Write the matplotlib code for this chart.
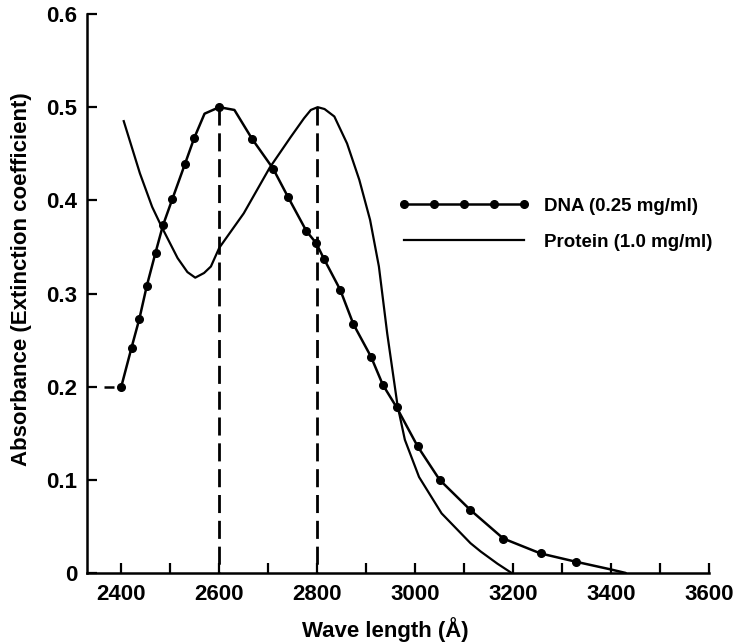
import matplotlib
matplotlib.use("Agg")
import matplotlib.pyplot as plt
from matplotlib.lines import Line2D

# ---- data ----
dna_marker_wl = [2400, 2421, 2437, 2452, 2470, 2485, 2504, 2530, 2549, 2600,
                 2667, 2710, 2740, 2778, 2798, 2814, 2847, 2874, 2910, 2934,
                 2962, 3005, 3050, 3112, 3180, 3256, 3329]
dna_marker_abs = [0.200, 0.242, 0.273, 0.308, 0.344, 0.373, 0.401, 0.439, 0.467, 0.500,
                  0.466, 0.434, 0.404, 0.367, 0.354, 0.337, 0.304, 0.267, 0.232, 0.202,
                  0.178, 0.136, 0.100, 0.068, 0.037, 0.021, 0.012]
# extra (unmarked) points on the DNA curve
dna_extra_wl = [2570, 2631, 3398, 3430]
dna_extra_abs = [0.493, 0.497, 0.004, 0.000]
# dashed baseline before first DNA point
dna_base_wl = [2365, 2400]
dna_base_abs = [0.200, 0.200]

protein_wl = [2405, 2438, 2463, 2482, 2515, 2535, 2551, 2569, 2583, 2600,
              2650, 2703, 2746, 2773, 2787, 2801, 2815, 2835, 2861, 2886,
              2908, 2926, 2943, 2964, 2979, 3008, 3054, 3113, 3134, 3168, 3197]
protein_abs = [0.485, 0.429, 0.393, 0.372, 0.338, 0.323, 0.317, 0.322, 0.329, 0.349,
               0.386, 0.435, 0.468, 0.488, 0.497, 0.500, 0.498, 0.490, 0.461, 0.422,
               0.379, 0.329, 0.257, 0.180, 0.143, 0.103, 0.064, 0.032, 0.023, 0.010, 0.000]

peak_wl = [2600, 2800]
peak_abs = [0.5, 0.5]

x_major = [2400, 2600, 2800, 3000, 3200, 3400, 3600]
x_minor = [2500, 2700, 2900, 3100, 3300, 3500]
y_ticks = [0, 0.1, 0.2, 0.3, 0.4, 0.5, 0.6]
y_ticklabels = ["0", "0.1", "0.2", "0.3", "0.4", "0.5", "0.6"]

dna_label = "DNA (0.25 mg/ml)"
protein_label = "Protein (1.0 mg/ml)"
xlabel = "Wave length (Å)"
ylabel = "Absorbance (Extinction coefficient)"

# ---- drawing ----
plt.rcParams['font.family'] = ['Liberation Sans', 'DejaVu Sans']
plt.rcParams['font.weight'] = 'bold'

fig = plt.figure(figsize=(7.44, 6.44), dpi=100)
ax = fig.add_axes([87/744, 1-573/644, 622/744, 559/644])

# DNA curve
curve = sorted(zip(dna_marker_wl + dna_extra_wl, dna_marker_abs + dna_extra_abs))
ax.plot([c[0] for c in curve], [c[1] for c in curve], color='black', lw=1.8,
        solid_joinstyle='round', solid_capstyle='round', zorder=3)
ax.plot(dna_marker_wl, dna_marker_abs, linestyle='none', marker='o', ms=5.5,
        color='black', zorder=4)
ax.plot(dna_base_wl, dna_base_abs, color='black', lw=1.8, dashes=[4, 2], zorder=3)

# Protein curve
ax.plot(protein_wl, protein_abs, color='black', lw=1.6, solid_joinstyle='round', zorder=3)

# peak drop lines
for w, a in zip(peak_wl, peak_abs):
    ax.plot([w, w], [a, 0], color='black', lw=2.0, dashes=[6.5, 2.8], zorder=2)

ax.set_xlim(2330, 3600)
ax.set_ylim(0, 0.6)
ax.set_xticks(x_major)
ax.set_xticks(x_minor, minor=True)
ax.set_yticks(y_ticks)
ax.set_yticklabels(y_ticklabels)
ax.tick_params(axis='both', which='both', direction='in', length=7.5, width=1.6,
               labelsize=16, colors='black')
ax.tick_params(axis='x', pad=8)
ax.tick_params(axis='y', pad=7)
for s in ['top', 'right']:
    ax.spines[s].set_visible(False)
for s in ['left', 'bottom']:
    ax.spines[s].set_linewidth(1.8)

ax.set_xlabel(xlabel, fontsize=16, fontweight='bold')
ax.set_ylabel(ylabel, fontsize=16, fontweight='bold')
ax.xaxis.set_label_coords(0.479, -0.078)
ax.yaxis.set_label_coords(-0.088, 0.526)

h_dna = Line2D([], [], color='black', lw=1.8, marker='o', ms=5.5)
h_pro = Line2D([], [], color='black', lw=1.6)
leg = ax.legend([h_dna, h_pro], [dna_label, protein_label], numpoints=5,
                loc='upper left', bbox_to_anchor=(0.50, 0.671), frameon=False,
                handlelength=7.0, handletextpad=0.8, labelspacing=1.0,
                borderpad=0, borderaxespad=0, fontsize=13.5)
for t in leg.get_texts():
    t.set_fontweight('bold')

fig.savefig("out.png", dpi=100, facecolor='white')
